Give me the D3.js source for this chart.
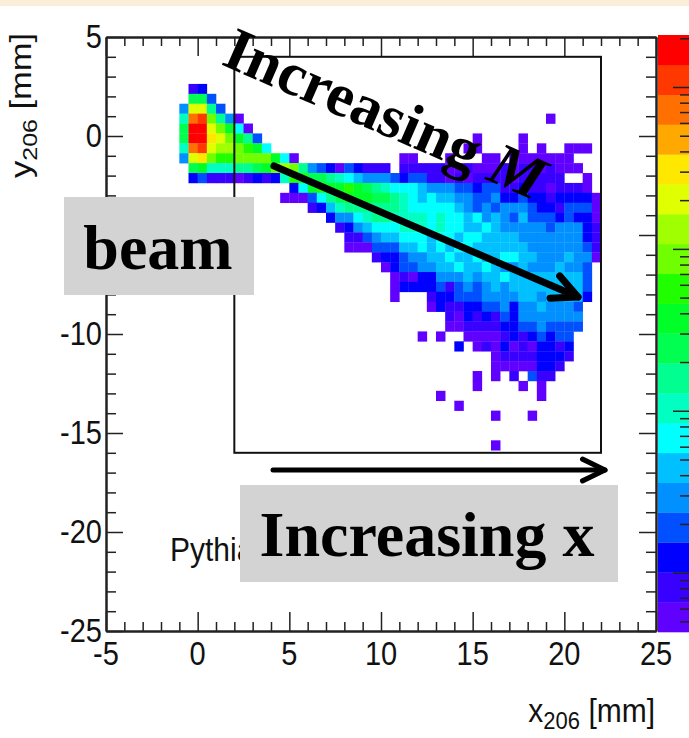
<!DOCTYPE html>
<html>
<head>
<meta charset="utf-8">
<script src="https://cdn.jsdelivr.net/npm/d3@7"></script>
<style>
  html, body { margin: 0; padding: 0; background: #fff; }
  svg { display: block; }
  text { font-family: "Liberation Sans", Arial, sans-serif; fill: #111; }
  .note { font-family: "Liberation Serif", "Times New Roman", serif; font-weight: bold; fill: #000; }
</style>
</head>
<body>
<div id="chart"></div>
<script>
// colour levels of the palette, bottom to top of the z bar
const palette = ['#6000ff', '#3800ff', '#0000ff', '#0050ff', '#0090ff', '#00c0ff', '#00ffff', '#00ffc0', '#00ff90', '#00ff50',
  '#00ff28', '#20ff00', '#70ff00', '#a0ff00', '#e0ff00', '#ffe800', '#ffa800', '#ff7000', '#ff3800', '#ff0000'];
const levelKeys = '0123456789abcdefghij';

// one entry per y bin from the top, "firstXBin:levels" with one character per filled x bin
const histRows = [
  '1:12',
  '1:993',
  '0:4ee83',
  '0:7hic840 40:0',
  '0:9jjeca60',
  '0:9jjfeca83 32:0 37:0',
  '0:7hieddcba6 31:00 37:0 39:0 42:000',
  '0:4efcbbcccca60 24:00 29:0 33:00 36:0000000',
  '1:9a777889acdc8432032111 24:11111001000101101000',
  '1:23111012127bb9987654443233110101111011111 44:0',
  '12:26abaaba9876665444332331121101110',
  '11:0003689aaa9987656554433422322122220',
  '14:12578888887666665434344432213330',
  '16:244678877776766564543533323220',
  '17:12456667776766556544444344421',
  '18:1134556665665665555444444421',
  '18:0003335565656655555544444431',
  '21:1223445565565566554445440',
  '22:02334455655654454445443',
  '23:0102244454556555555553',
  '23:0222231343454555555553',
  '23:0 27:122333444455455552',
  '27:02112233424454443',
  '29:102121324444444',
  '29:001111223343333',
  '26:0 28:0 31:000012123233',
  '30:2 32:01020102212',
  '34:011112221',
  '34:00000221',
  '32:0 34:0 36:1 38:311',
  '32:0 37:0 39:0',
  '28:0 39:0',
  '30:0',
  '34:0 38:0',
  '',
  '',
  '34:0'
];
const binStartX = -1;
const binStartY = 2.63;
const binSize = 0.5;

const xMajor = [-5, 0, 5, 10, 15, 20, 25];
const yMajor = [5, 0, -5, -10, -15, -20, -25];
const xMinor = d3.range(-5, 26).filter(d => d % 5 !== 0);
const yMinor = d3.range(-25, 6).filter(d => d % 5 !== 0);
const zMajor = [1, 10, 100, 1000];
const zMinor = [0.5, 0.6, 0.7, 0.8, 0.9, 2, 3, 4, 5, 6, 7, 8, 9, 20, 30, 40, 50, 60, 70, 80, 90, 200, 300, 400, 500, 600, 700, 800, 900, 2000];

const width = 689, height = 738;
const svg = d3.select('#chart').append('svg').attr('width', width).attr('height', height);

const x = d3.scaleLinear().domain([-5, 25]).range([106, 656]);
const y = d3.scaleLinear().domain([5, -25]).range([37, 631]);
const zBand = d3.scaleBand().domain(d3.range(palette.length)).range([632, 35]);
const z = d3.scaleLog().domain([0.43, 2095]).range([632, 35]);

// page strip at the top
svg.append('rect').attr('width', width).attr('height', 6).attr('fill', '#fbeed9');

// expand the rows into cells
const cells = [];
histRows.forEach((row, r) => {
  row.split(' ').filter(s => s).forEach(seg => {
    const [start, levels] = seg.split(':');
    levels.split('').forEach((k, i) => {
      cells.push({ col: +start + i, row: r, level: levelKeys.indexOf(k) });
    });
  });
});

svg.append('g').selectAll('rect')
  .data(cells)
  .join('rect')
  .attr('x', d => x(binStartX + d.col * binSize))
  .attr('y', d => y(binStartY - d.row * binSize))
  .attr('width', x(binSize) - x(0) + 0.3)
  .attr('height', y(0) - y(binSize) + 0.3)
  .attr('fill', d => palette[d.level]);

// z palette
svg.append('g').selectAll('rect')
  .data(d3.range(palette.length))
  .join('rect')
  .attr('x', 658)
  .attr('y', d => zBand(d))
  .attr('width', 31)
  .attr('height', zBand.bandwidth() + 0.3)
  .attr('fill', d => palette[d]);

function drawAxis(axisFn, scale, values, size, tx, ty) {
  const g = svg.append('g')
    .attr('transform', `translate(${tx},${ty})`)
    .call(axisFn(scale).tickValues(values).tickSize(size).tickSizeOuter(0).tickFormat(''));
  g.selectAll('line').attr('stroke', '#222').attr('stroke-width', 1.5);
  g.select('.domain').attr('stroke', '#222').attr('stroke-width', 2);
  return g;
}

// main frame, ticks on all four sides point inward
drawAxis(d3.axisTop, x, xMajor, 19, 0, 631);
drawAxis(d3.axisTop, x, xMinor, 9, 0, 631);
drawAxis(d3.axisBottom, x, xMajor, 19, 0, 37);
drawAxis(d3.axisBottom, x, xMinor, 9, 0, 37);
drawAxis(d3.axisRight, y, yMajor, 17, 106, 0);
drawAxis(d3.axisRight, y, yMinor, 10, 106, 0);
drawAxis(d3.axisLeft, y, yMajor, 17, 656, 0);
drawAxis(d3.axisLeft, y, yMinor, 10, 656, 0);

// tick labels, the screenshot is a bit stretched vertically
const tickFont = 29;
svg.append('g').selectAll('text')
  .data(xMajor)
  .join('text')
  .attr('transform', d => `translate(${x(d)},665) scale(1,1.13)`)
  .attr('text-anchor', 'middle')
  .attr('font-size', tickFont)
  .text(d => d);
// -5 sits fully behind the beam box
svg.append('g').selectAll('text')
  .data(yMajor.filter(d => d !== -5))
  .join('text')
  .attr('transform', d => `translate(102,${y(d) + 11}) scale(1,1.13)`)
  .attr('text-anchor', 'end')
  .attr('font-size', tickFont)
  .text(d => d);

// z axis ticks sit on the right edge of the bar
drawAxis(d3.axisLeft, z, zMajor, 16, 689, 0).select('.domain').attr('stroke-width', 1);
drawAxis(d3.axisLeft, z, zMinor, 9, 689, 0).select('.domain').attr('stroke-width', 1);

// axis titles
const yTitle = svg.append('text')
  .attr('transform', 'translate(31,178) rotate(-90) scale(1.19,1)')
  .attr('font-size', 29);
yTitle.append('tspan').text('y');
yTitle.append('tspan').attr('font-size', 21).attr('dy', 6).text('206');
yTitle.append('tspan').attr('dy', -6).text(' [mm]');

const xTitle = svg.append('text')
  .attr('transform', 'translate(655,722) scale(1,1.1)')
  .attr('text-anchor', 'end')
  .attr('font-size', 30);
xTitle.append('tspan').text('x');
xTitle.append('tspan').attr('font-size', 22).attr('dy', 6).text('206');
xTitle.append('tspan').attr('dy', -6).text(' [mm]');

svg.append('text')
  .attr('transform', 'translate(170,561) scale(1,1.1)')
  .attr('font-size', 30)
  .text('Pythia');

// annotations pasted over the plot
svg.append('rect')
  .attr('x', x(2)).attr('y', y(4))
  .attr('width', x(22) - x(2)).attr('height', y(-16) - y(4))
  .attr('fill', 'none').attr('stroke', '#111').attr('stroke-width', 2);

svg.append('rect').attr('x', 64).attr('y', 197).attr('width', 190).attr('height', 98).attr('fill', '#d3d3d3');
svg.append('text').attr('class', 'note').attr('x', 158).attr('y', 269).attr('text-anchor', 'middle').attr('font-size', 64).text('beam');

svg.append('rect').attr('x', 240).attr('y', 485).attr('width', 378).attr('height', 97).attr('fill', '#d3d3d3');
svg.append('text').attr('class', 'note').attr('x', 427).attr('y', 556).attr('text-anchor', 'middle').attr('font-size', 64).text('Increasing x');

const slanted = svg.append('text')
  .attr('class', 'note')
  .attr('transform', 'translate(220,64) rotate(23.5)')
  .attr('font-size', 61);
slanted.append('tspan').text('Increasing ');
slanted.append('tspan').attr('font-style', 'italic').text('M');

function arrow(x1, y1, x2, y2, w, len, spread) {
  const g = svg.append('g').attr('fill', 'none').attr('stroke', '#000').attr('stroke-width', w).attr('stroke-linecap', 'round').attr('stroke-linejoin', 'round');
  const a = Math.atan2(y2 - y1, x2 - x1);
  g.append('path').attr('d', d3.line()([[x1, y1], [x2, y2]]));
  g.append('path').attr('d', d3.line()([
    [x2 - len * Math.cos(a - spread), y2 - len * Math.sin(a - spread)],
    [x2, y2],
    [x2 - len * Math.cos(a + spread), y2 - len * Math.sin(a + spread)]
  ]));
}
arrow(274, 166, 578, 297, 7, 28, 0.45);
arrow(273, 470, 605, 470, 5, 25, 0.45);
</script>
</body>
</html>
